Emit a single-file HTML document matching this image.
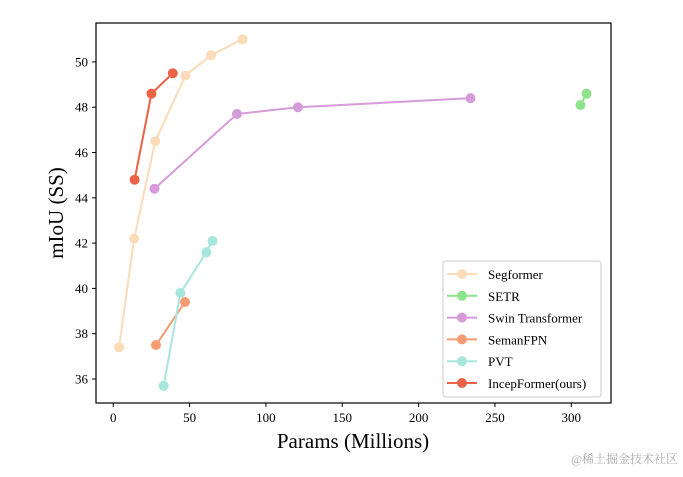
<!DOCTYPE html>
<html><head><meta charset="utf-8"><style>
body{margin:0;background:#fff;}
svg text{font-family:"Liberation Serif","Noto Serif CJK SC",serif;}
</style></head><body>
<svg id="c" width="683" height="472" xmlns="http://www.w3.org/2000/svg"></svg>
<script>
const seriesNames=["Segformer","SETR","Swin Transformer","SemanFPN","PVT","IncepFormer(ours)"];
const seriesColors=["#fcdcb8","#8ee38a","#d69bd9","#f59a72","#a6e6dc","#eb6247"];
const segX=[3.8,13.7,27.5,47.3,64.1,84.7];
const segY=[37.4,42.2,46.5,49.4,50.3,51.0];
const setrX=[306,310];
const setrY=[48.1,48.6];
const swinX=[27,81,121,234];
const swinY=[44.4,47.7,48.0,48.4];
const fpnX=[28,47];
const fpnY=[37.5,39.4];
const pvtX=[33,44,61,65];
const pvtY=[35.7,39.8,41.6,42.1];
const incX=[14,25,39];
const incY=[44.8,48.6,49.5];
const xTicks=[0,50,100,150,200,250,300];
const yTicks=[36,38,40,42,44,46,48,50];
const L=96,R=611,T=23,B=403,xmin=-11.3,xmax=326,ymin=34.94,ymax=51.72;
const sx=v=>L+(v-xmin)/(xmax-xmin)*(R-L);
const sy=v=>B-(v-ymin)/(ymax-ymin)*(B-T);
const svg=document.getElementById('c');
const NS="http://www.w3.org/2000/svg";
function mk(t,a,p){const e=document.createElementNS(NS,t);for(const k in a)e.setAttribute(k,a[k]);(p||svg).appendChild(e);return e;}
const xs=[segX,setrX,swinX,fpnX,pvtX,incX],ys=[segY,setrY,swinY,fpnY,pvtY,incY];
xs.forEach((X,i)=>{
 const g=mk('g',{});
 
 
 const pl=mk('polyline',{points:X.map((x,j)=>sx(x)+','+sy(ys[i][j])).join(' '),fill:'none',stroke:seriesColors[i],'stroke-width':2},g);
 
 
 X.forEach((x,j)=>{const c=mk('circle',{cx:sx(x),cy:sy(ys[i][j]),r:5,fill:seriesColors[i]},g);
 
 });
});
const fr=mk('rect',{x:L,y:T,width:R-L,height:B-T,fill:'none',stroke:'#000','stroke-width':1.2});


xTicks.forEach(t=>{mk('line',{x1:sx(t),x2:sx(t),y1:B,y2:B+4,stroke:'#000'});
 const e=mk('text',{x:sx(t),y:B+19,'text-anchor':'middle','font-size':13});e.textContent=t;
 
 });
yTicks.forEach(t=>{mk('line',{x1:L-4,x2:L,y1:sy(t),y2:sy(t),stroke:'#000'});
 const e=mk('text',{x:L-8,y:sy(t)+4.5,'text-anchor':'end','font-size':13});e.textContent=t;
 
 });
let e=mk('text',{x:353,y:448,'text-anchor':'middle','font-size':21});e.textContent='Params (Millions)';


e=mk('text',{x:63,y:213,'text-anchor':'middle','font-size':21,transform:'rotate(-90 63 213)'});e.textContent='mIoU (SS)';


const lg=mk('g',{});


mk('rect',{x:443,y:261,width:158,height:136,rx:3,fill:'#fff',stroke:'#ccc'},lg);
seriesNames.forEach((n,i)=>{const y=274+i*21.8;
 const g=mk('g',{},lg);
 
 
 mk('line',{x1:447,x2:477,y1:y,y2:y,stroke:seriesColors[i],'stroke-width':2},g);
 mk('circle',{cx:462,cy:y,r:5,fill:seriesColors[i]},g);
 const t=mk('text',{x:488,y:y+5,'font-size':13},g);t.textContent=n;});
e=mk('text',{x:678,y:463,'text-anchor':'end','font-size':12,fill:'#aaa'});e.textContent='@稀土掘金技术社区';


</script>
</body></html>
